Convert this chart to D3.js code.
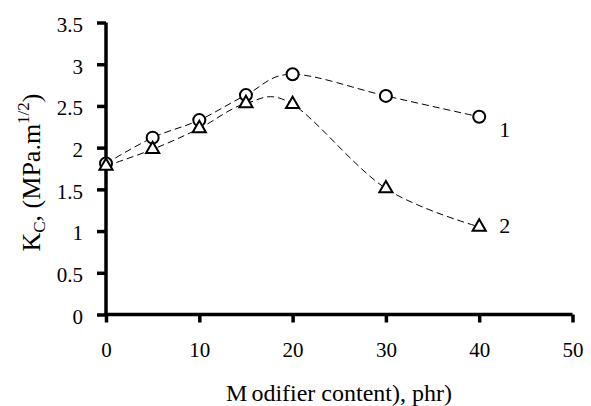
<!DOCTYPE html>
<html><head><meta charset="utf-8">
<script src="https://cdn.jsdelivr.net/npm/d3@7"></script>
<style>body{margin:0;background:#fff}svg{display:block}</style>
</head><body>
<script>
const xTicks = [0,10,20,30,40,50];
const yTicks = [0,0.5,1,1.5,2,2.5,3,3.5];
const modifier = [0,5,10,15,20,30,40];
const series1 = [1.81,2.12,2.33,2.63,2.88,2.62,2.37];
const series2 = [1.78,1.98,2.23,2.53,2.52,1.51,1.05];
const seriesLabels = ["1","2"];

const W=591,H=406;
const FONT="Liberation Serif";
const svg=d3.select("body").append("svg").attr("width",W).attr("height",H)
  .attr("font-family",FONT);
const x=d3.scaleLinear().domain([0,50]).range([106,572.5]);
const y=d3.scaleLinear().domain([0,3.5]).range([314.5,22.5]);

const line=d3.line().x((d,i)=>x(modifier[i])).y(d=>y(d)).curve(d3.curveCardinal.tension(0));
[series1,series2].forEach(s=>{
  svg.append("path").attr("d",line(s)).attr("fill","none").attr("stroke","#000")
    .attr("stroke-width",1).attr("stroke-dasharray","7,4");
});

// axes
const ya=svg.append("g").attr("transform","translate(106,0)")
  .call(d3.axisLeft(y).tickValues(yTicks).tickSize(9).tickPadding(14).tickFormat(d3.format("")));
const xa=svg.append("g").attr("transform","translate(0,314.5)")
  .call(d3.axisBottom(x).tickValues(xTicks).tickSize(8).tickPadding(20).tickFormat(d3.format("")));
[ya,xa].forEach(a=>{
  a.attr("font-family",FONT).attr("font-size",21);
  a.select(".domain").attr("stroke","#000").attr("stroke-width",3.5);
  a.selectAll(".tick line").attr("stroke","#000").attr("stroke-width",3.5);
  a.selectAll("text").attr("font-family",FONT).attr("font-size",21).attr("fill","#000");
});
ya.selectAll("text").attr("dy","0.42em");
ya.select(".domain").attr("d","M0,"+y(3.5)+"V"+y(0));
xa.select(".domain").attr("d","M"+x(0)+",0H"+x(50));

// markers
svg.append("g").selectAll("circle").data(series1).join("circle")
  .attr("cx",(d,i)=>x(modifier[i])).attr("cy",d=>y(d)).attr("r",6)
  .attr("fill","#fff").attr("stroke","#000").attr("stroke-width",2);
const tri=d3.symbol().type(d3.symbolTriangle).size(75);
svg.append("g").selectAll("path").data(series2).join("path")
  .attr("transform",(d,i)=>`translate(${x(modifier[i])},${y(d)})`).attr("d",tri)
  .attr("fill","#fff").attr("stroke","#000").attr("stroke-width",2);

// series labels
svg.append("text").attr("x",x(40)+20).attr("y",y(series1[6])+20).text(seriesLabels[0])
  .attr("font-size",22);
svg.append("text").attr("x",x(40)+20).attr("y",y(series2[6])+6).text(seriesLabels[1])
  .attr("font-size",22);

// axis titles
const xt=svg.append("text").attr("x",339).attr("y",401).attr("text-anchor","middle")
  .attr("font-size",24);
xt.append("tspan").text("M");
xt.append("tspan").attr("dx",4).text("odifier content), phr)");
const yl=svg.append("text").attr("transform","translate(40,172.5) rotate(-90)").attr("text-anchor","middle")
  .attr("font-size",26);
yl.append("tspan").text("K");
yl.append("tspan").attr("font-size",17).attr("dy",5).text("C");
yl.append("tspan").attr("dy",-5).text(", (MPa.m");
yl.append("tspan").attr("font-size",17).attr("dy",-11).text("1/2");
yl.append("tspan").attr("dy",11).text(")");
</script>
</body></html>
